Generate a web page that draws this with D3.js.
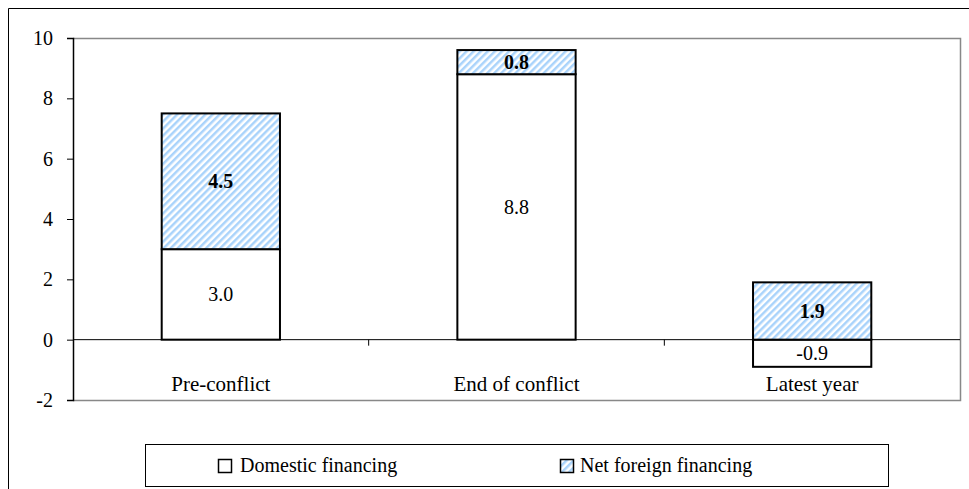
<!DOCTYPE html>
<html><head><meta charset="utf-8">
<script src="https://cdn.jsdelivr.net/npm/d3@7"></script>
<style>body{margin:0;background:#fff}svg{display:block}</style>
</head><body><svg id="c" width="969" height="489"></svg>
<script>
const categories = ["Pre-conflict", "End of conflict", "Latest year"];
const domestic = [3.0, 8.8, -0.9];
const foreign = [4.5, 0.8, 1.9];
const seriesNames = ["Domestic financing", "Net foreign financing"];
const yTicks = [-2, 0, 2, 4, 6, 8, 10];

const FONT = "'Liberation Serif', 'Times New Roman', serif";
const svg = d3.select("#c");
const L = 73, R = 960, T = 38, B = 400;

const defs = svg.append("defs");
const pat = defs.append("pattern").attr("id","hatch").attr("patternUnits","userSpaceOnUse")
  .attr("width",5).attr("height",5).attr("patternTransform","rotate(45)");
pat.append("rect").attr("width",5).attr("height",5).attr("fill","#ffffff");
pat.append("rect").attr("width",2.5).attr("height",5).attr("fill","#a9d3fb");

// outer frame
svg.append("path").attr("d","M8.5,489 V8.5 H969").attr("fill","none").attr("stroke","#000").attr("stroke-width",1);

const x = d3.scaleBand().domain(categories).range([L, R]).paddingInner(0.6).paddingOuter(0.3);
const y = d3.scaleLinear().domain([-2, 10]).range([B, T]);

// plot border (gray)
svg.append("path").attr("d",`M${L},${T+0.5} H${R+0.5} V${B+0.5} H${L}`).attr("fill","none").attr("stroke","#888").attr("stroke-width",1.5);

// y axis
const ya = svg.append("g").attr("transform",`translate(${L},0)`)
  .call(d3.axisLeft(y).tickValues(yTicks).tickSize(6).tickPadding(14).tickFormat(d => d < 0 ? "-" + Math.abs(d) : String(d)));
ya.select(".domain").attr("stroke","#000").attr("stroke-width",1.5);
ya.selectAll(".tick line").attr("stroke","#000");
ya.selectAll("text").attr("class","t20");

// zero line with category separators
const y0 = y(0);
svg.append("line").attr("x1",L).attr("x2",R).attr("y1",y0).attr("y2",y0).attr("stroke","#000").attr("stroke-width",1);
const bounds = d3.range(1, categories.length).map(i => x(categories[i]) - (x.step() - x.bandwidth())/2);
svg.selectAll(".sep").data(bounds).enter().append("line")
  .attr("x1",d=>d).attr("x2",d=>d).attr("y1",y0).attr("y2",y0+6).attr("stroke","#000");

const fmt = v => (v < 0 ? "-" : "") + Math.abs(v).toFixed(1);

// bars
const data = categories.map((c,i)=>({c, d: domestic[i], f: foreign[i]}));
const g = svg.append("g");
data.forEach(o=>{
  const bx = x(o.c), bw = x.bandwidth();
  const d0 = Math.min(0,o.d), d1 = Math.max(0,o.d);
  const fBase = o.d > 0 ? o.d : 0;
  g.append("rect").attr("x",bx).attr("width",bw).attr("y",y(d1)).attr("height",y(d0)-y(d1))
    .attr("fill","#fff").attr("stroke","#000").attr("stroke-width",2);
  g.append("rect").attr("x",bx).attr("width",bw).attr("y",y(fBase+o.f)).attr("height",y(fBase)-y(fBase+o.f))
    .attr("fill","url(#hatch)").attr("stroke","#000").attr("stroke-width",2);
  g.append("text").attr("class","t20").attr("x",bx+bw/2).attr("y",(y(d0)+y(d1))/2).attr("dy","0.35em")
    .attr("text-anchor","middle").text(fmt(o.d));
  g.append("text").attr("class","t20").attr("x",bx+bw/2).attr("y",(y(fBase)+y(fBase+o.f))/2).attr("dy","0.35em")
    .attr("text-anchor","middle").attr("font-weight","bold").text(fmt(o.f));
});

// category labels
svg.append("g").selectAll("text").data(categories).enter().append("text").attr("class","t21")
  .attr("x",d=>x(d)+x.bandwidth()/2).attr("y",391).attr("text-anchor","middle").text(d=>d);

// legend
svg.append("rect").attr("x",145.5).attr("y",444.5).attr("width",743).attr("height",42)
  .attr("fill","#fff").attr("stroke","#000").attr("stroke-width",1);
const lg = [{x:218, tx:240, fill:"#fff", t:seriesNames[0]},{x:560, tx:580, fill:"url(#hatch)", t:seriesNames[1]}];
const lgG = svg.append("g");
lg.forEach(o=>{
  lgG.append("rect").attr("x",o.x+0.5).attr("y",459.5).attr("width",13).attr("height",13)
    .attr("fill",o.fill).attr("stroke","#000").attr("stroke-width",1.5);
  lgG.append("text").attr("class","t20").attr("x",o.tx).attr("y",472).text(o.t);
});

svg.selectAll("text").style("font-family", FONT).attr("fill","#000");
svg.selectAll("text.t20").style("font-size","20px");
svg.selectAll("text.t21").style("font-size","21px");
</script></body></html>
